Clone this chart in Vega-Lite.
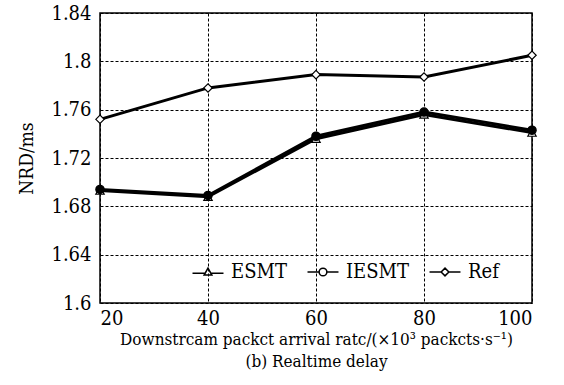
{
  "$schema": "https://vega.github.io/schema/vega-lite/v6.json",
  "width": 432,
  "height": 290,
  "autosize": {"type": "none"},
  "padding": {"left": 100, "top": 13, "right": 32, "bottom": 82},
  "background": "white",
  "config": {
    "font": "DejaVu Serif Condensed, DejaVu Serif",
    "view": {"stroke": "black", "strokeWidth": 1.5},
    "axis": {
      "labelFont": "DejaVu Serif Condensed, DejaVu Serif",
      "titleFont": "DejaVu Serif Condensed, DejaVu Serif",
      "labelColor": "black",
      "titleColor": "black",
      "labelFontSize": 20,
      "titleFontSize": 17,
      "titleFontWeight": "normal",
      "domain": false,
      "ticks": false,
      "gridColor": "black",
      "gridDash": [3, 2],
      "gridWidth": 1,
      "gridOpacity": 1
    },
    "legend": {"labelFont": "DejaVu Serif Condensed, DejaVu Serif", "labelFontSize": 20, "labelColor": "black"}
  },
  "data": {
    "values": [
      {"x": 20, "s": "ESMT", "v": 1.693},
      {"x": 40, "s": "ESMT", "v": 1.688},
      {"x": 60, "s": "ESMT", "v": 1.736},
      {"x": 80, "s": "ESMT", "v": 1.756},
      {"x": 100, "s": "ESMT", "v": 1.741},
      {"x": 20, "s": "IESMT", "v": 1.694},
      {"x": 40, "s": "IESMT", "v": 1.689},
      {"x": 60, "s": "IESMT", "v": 1.738},
      {"x": 80, "s": "IESMT", "v": 1.758},
      {"x": 100, "s": "IESMT", "v": 1.743},
      {"x": 20, "s": "Ref", "v": 1.752},
      {"x": 40, "s": "Ref", "v": 1.778},
      {"x": 60, "s": "Ref", "v": 1.789},
      {"x": 80, "s": "Ref", "v": 1.787},
      {"x": 100, "s": "Ref", "v": 1.805}
    ]
  },
  "encoding": {
    "x": {
      "field": "x", "type": "quantitative",
      "scale": {"domain": [20, 100], "nice": false},
      "axis": {
        "values": [20, 40, 60, 80, 100],
        "labelPadding": 5,
        "title": ["Downstrcam packct arrival ratc/(×10³ packcts·s⁻¹)", "(b) Realtime delay"],
        "titlePadding": 3,
        "titleLineHeight": 22
      }
    },
    "y": {
      "field": "v", "type": "quantitative",
      "scale": {"domain": [1.6, 1.84], "nice": false, "zero": false},
      "axis": {
        "values": [1.6, 1.64, 1.68, 1.72, 1.76, 1.8, 1.84],
        "format": ".2~f",
        "labelPadding": 9,
        "title": "NRD/ms",
        "titlePadding": 14,
        "titleFontSize": 19
      }
    }
  },
  "layer": [
    {
      "mark": {"type": "line", "color": "black", "strokeWidth": 3},
      "encoding": {"detail": {"field": "s"}}
    },
    {
      "mark": {"type": "point", "filled": true, "opacity": 1, "strokeWidth": 1.2, "stroke": "black", "size": 70},
      "encoding": {
        "shape": {
          "condition": [
            {"test": "datum.s === 'ESMT'", "value": "triangle-up"},
            {"test": "datum.s === 'IESMT'", "value": "circle"}
          ],
          "value": "diamond"
        },
        "fill": {
          "condition": {"test": "datum.s === 'IESMT'", "value": "black"},
          "value": "white"
        }
      }
    },
    {
      "mark": {"type": "point", "filled": true, "opacity": 0, "strokeWidth": 1.7, "stroke": "black", "size": 60},
      "encoding": {
        "shape": {
          "field": "s", "type": "nominal",
          "scale": {
            "domain": ["ESMT", "IESMT", "Ref"],
            "range": [
              "M-4,0.3H-0.72M0.72,0.3H4M0,-1L1,0.8L-1,0.8Z",
              "M-4,0H-1M1,0H4M-1,0A1,1 0 1,1 1,0A1,1 0 1,1 -1,0Z",
              "M-4,0H-1M1,0H4M0,-1L1,0L0,1L-1,0Z"
            ]
          },
          "legend": {
            "title": null,
            "orient": "none",
            "legendX": 98,
            "legendY": 249,
            "padding": 0,
            "direction": "horizontal",
            "columnPadding": 17,
            "symbolSize": 60,
            "labelOffset": 13
          }
        },
        "fill": {
          "field": "s", "type": "nominal",
          "scale": {"domain": ["ESMT", "IESMT", "Ref"], "range": ["white", "black", "white"]},
          "legend": {
            "title": null,
            "orient": "none",
            "legendX": 98,
            "legendY": 249,
            "padding": 0,
            "direction": "horizontal",
            "columnPadding": 17,
            "symbolSize": 60,
            "labelOffset": 13
          }
        }
      }
    }
  ]
}
